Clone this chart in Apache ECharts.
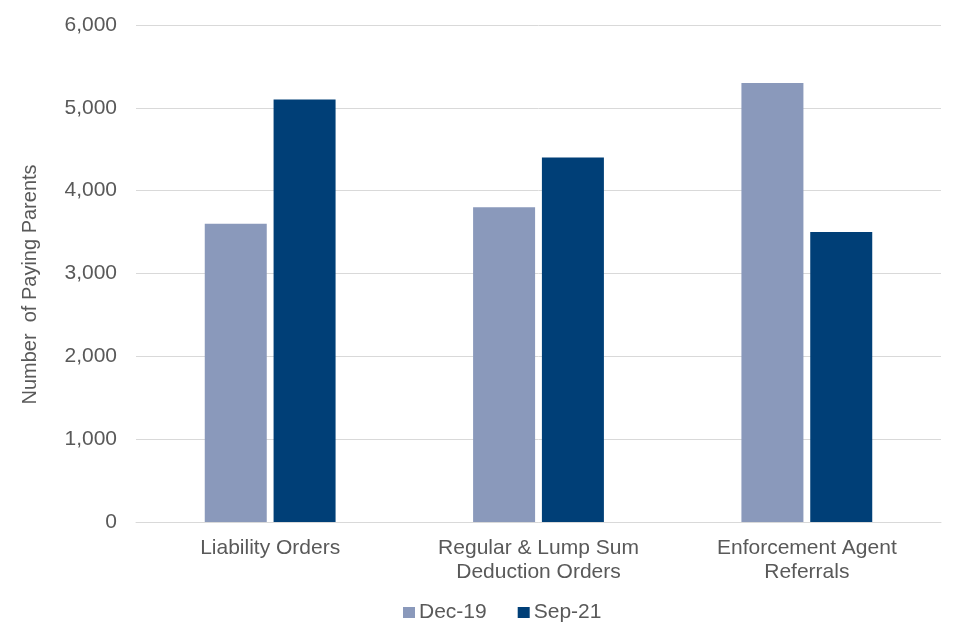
<!DOCTYPE html>
<html>
<head>
<meta charset="utf-8">
<script src="https://cdn.jsdelivr.net/npm/echarts@6/dist/echarts.min.js"></script>
<style>html,body{margin:0;padding:0;background:#fff}#c{width:960px;height:640px}</style>
</head>
<body>
<div id="c"></div>
<script>
var categories = ['Liability Orders', 'Regular & Lump Sum\nDeduction Orders', 'Enforcement Agent\nReferrals'];
var dec19 = [3600, 3800, 5300];
var sep21 = [5100, 4400, 3500];
var seriesNames = ['Dec-19', 'Sep-21'];

var chart = echarts.init(document.getElementById('c'));
var font = '"Liberation Sans", Arial, sans-serif';
chart.setOption({
  animation: false,
  textStyle: { fontFamily: font },
  grid: { left: 136, right: 19, top: 25, bottom: 118 },
  legend: {
    data: seriesNames,
    left: 398, top: 597,
    itemWidth: 12, itemHeight: 11, itemGap: 31,
    icon: 'rect',
    textStyle: { fontSize: 21, color: '#595959', fontFamily: font, padding: [0,0,0,-1] }
  },
  xAxis: {
    type: 'category',
    data: categories,
    axisLine: { show: true, lineStyle: { color: '#d9d9d9', width: 1 } },
    axisTick: { show: false },
    axisLabel: { color: '#595959', fontSize: 21, lineHeight: 24, margin: 14, interval: 0, fontFamily: font }
  },
  yAxis: {
    type: 'value',
    min: 0, max: 6000, interval: 1000,
    name: 'Number  of Paying Parents',
    nameLocation: 'middle',
    nameGap: 96,
    nameRotate: 90,
    nameTextStyle: { color: '#595959', fontSize: 20, fontFamily: font, padding: [0, 22, 0, 0] },
    axisLine: { show: false },
    axisTick: { show: false },
    splitLine: { lineStyle: { color: '#d9d9d9', width: 1 } },
    axisLabel: {
      color: '#595959', fontSize: 21, margin: 19, fontFamily: font,
      formatter: function (v) { return v.toLocaleString('en-GB'); }
    }
  },
  series: [
    { name: seriesNames[0], type: 'bar', data: dec19, barWidth: 62, barGap: '11%', itemStyle: { color: '#8a99bb' } },
    { name: seriesNames[1], type: 'bar', data: sep21, barWidth: 62, itemStyle: { color: '#003f77' } }
  ]
});
</script>
</body>
</html>
